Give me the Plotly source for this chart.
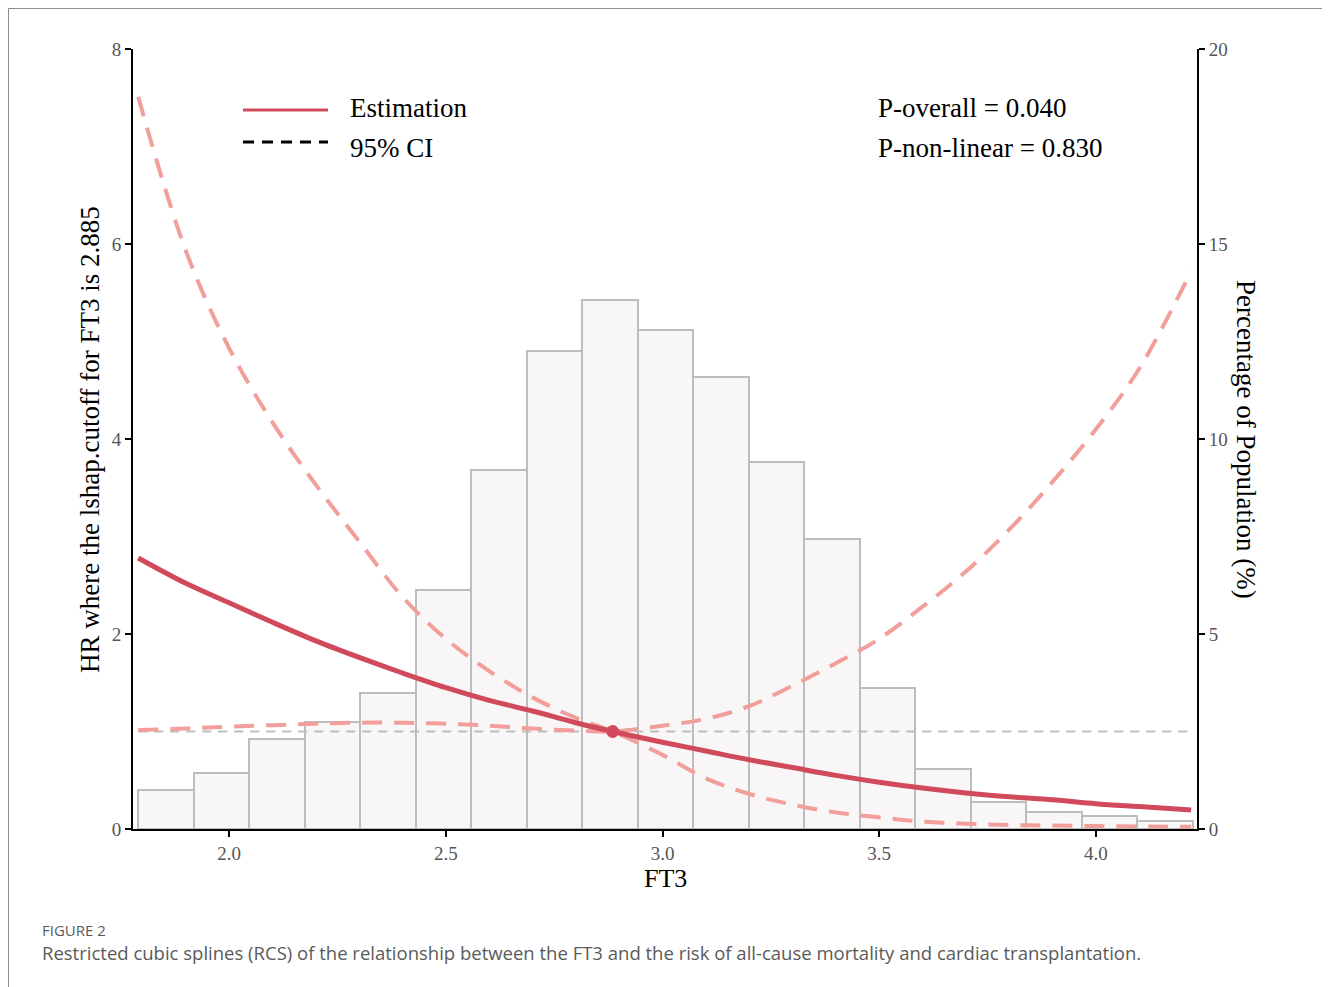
import plotly.graph_objects as go

# ---------------- data ----------------
ft3 = [1.79, 1.9, 2.0, 2.1, 2.2, 2.3, 2.4, 2.5, 2.6, 2.7, 2.8, 2.885,
       3.0, 3.1, 3.2, 3.3, 3.4, 3.5, 3.6, 3.7, 3.8, 3.9, 4.0, 4.1, 4.22]
hr_est = [2.78, 2.52, 2.32, 2.12, 1.93, 1.76, 1.60, 1.45, 1.32, 1.21, 1.09, 1.00,
          0.89, 0.80, 0.71, 0.63, 0.55, 0.48, 0.42, 0.37, 0.33, 0.30, 0.26, 0.23, 0.195]
ci_upper = [7.51, 5.93, 4.93, 4.17, 3.53, 2.95, 2.38, 1.95, 1.62, 1.35, 1.14, 1.00,
            1.06, 1.13, 1.26, 1.47, 1.70, 1.95, 2.28, 2.64, 3.07, 3.56, 4.10, 4.72, 5.72]
ci_lower = [1.015, 1.03, 1.05, 1.065, 1.08, 1.09, 1.09, 1.08, 1.06, 1.03, 1.01, 1.00,
            0.76, 0.52, 0.36, 0.25, 0.17, 0.12, 0.075, 0.055, 0.042, 0.035, 0.03, 0.026, 0.022]
ref_ft3 = 2.885

hist_start = 1.79
hist_width = 0.1281
hist_pct = [1.00, 1.43, 2.30, 2.75, 3.50, 6.13, 9.20, 12.26, 13.56, 12.79,
            11.59, 9.41, 7.44, 3.62, 1.53, 0.68, 0.44, 0.33, 0.21]

x_ticks = [2.0, 2.5, 3.0, 3.5, 4.0]
hr_ticks = [0, 2, 4, 6, 8]
pct_ticks = [0, 5, 10, 15, 20]

p_overall = "P-overall = 0.040"
p_nonlinear = "P-non-linear = 0.830"
caption_label = "FIGURE 2"
caption_text = ("Restricted cubic splines (RCS) of the relationship between the FT3 and the risk "
                "of all-cause mortality and cardiac transplantation.")

# ---------------- styling ----------------
OFF = 8                      # browser body margin
W, H = 1330 - OFF, 987 - OFF
L, R, T, B = 133, 1197, 49, 829   # plot area in reference pixels
SERIF = "Liberation Serif, Times New Roman, serif"
RED = "#D14A5B"
SALMON = "#F29F9B"
GREY = "#BDBDBD"


def px(x):
    return (x - L) / (R - L)


def py(y):
    return (B - y) / (B - T)


k = ft3.index(ref_ft3)
curve_a = ci_upper[:k + 1] + ci_lower[k + 1:]
curve_b = ci_lower[:k + 1] + ci_upper[k + 1:]

centers = [hist_start + hist_width * (i + 0.5) for i in range(len(hist_pct))]
hist_end = hist_start + hist_width * len(hist_pct)

fig = go.Figure()
fig.add_trace(go.Bar(x=centers, y=hist_pct, width=hist_width, yaxis="y",
                     marker=dict(color="#F8F6F7", line=dict(color=GREY, width=2)),
                     showlegend=False, hoverinfo="skip"))
fig.add_trace(go.Scatter(x=[hist_start, hist_end], y=[1, 1], yaxis="y2", mode="lines",
                         line=dict(color=GREY, width=2, dash="9px,7px"), showlegend=False))
for c in (curve_a, curve_b):
    fig.add_trace(go.Scatter(x=ft3, y=c, yaxis="y2", mode="lines",
                             line=dict(color=SALMON, width=4, dash="20px,12px", shape="spline", smoothing=1.0),
                             showlegend=False))
fig.add_trace(go.Scatter(x=ft3, y=hr_est, yaxis="y2", mode="lines",
                         line=dict(color=RED, width=5, shape="spline", smoothing=1.0), showlegend=False))
fig.add_trace(go.Scatter(x=[ref_ft3], y=[1], yaxis="y2", mode="markers",
                         marker=dict(color=RED, size=13), showlegend=False))

tickfont = dict(family=SERIF, size=19, color="#555555")
axis_common = dict(showline=True, linecolor="black", linewidth=2, ticks="outside", ticklen=6,
                   tickwidth=2, tickcolor="black", showgrid=False, zeroline=False, tickfont=tickfont)

fig.update_layout(
    width=W, height=H,
    margin=dict(l=L - OFF, r=W - (R - OFF), t=T - OFF, b=H - (B - OFF)),
    paper_bgcolor="white", plot_bgcolor="white",
    showlegend=False, bargap=0,
    xaxis=dict(range=[1.778, 4.2335], tickvals=x_ticks, ticktext=[f"{v:.1f}" for v in x_ticks],
               **axis_common),
    yaxis=dict(range=[0, 20], side="right", tickvals=pct_ticks, **axis_common),
    yaxis2=dict(range=[0, 8], side="left", overlaying="y", tickvals=hr_ticks, **axis_common),
)

anns = [
    dict(text="FT3", x=px(665), y=py(878), size=26),
    dict(text="HR where the lshap.cutoff for FT3 is 2.885", x=px(90), y=py(440), size=27, angle=-90),
    dict(text="Percentage of Population (%)", x=px(1246), y=py(439), size=27, angle=90),
]
for a in anns:
    fig.add_annotation(text=a["text"], x=a["x"], y=a["y"], xref="paper", yref="paper",
                       showarrow=False, textangle=a.get("angle", 0),
                       font=dict(family=SERIF, size=a["size"], color="black"),
                       xanchor="center", yanchor="middle")

for txt, xx, yy in [("Estimation", 348, 108), ("95% CI", 348, 148),
                    (p_overall, 876, 108), (p_nonlinear, 876, 148)]:
    fig.add_annotation(text=txt, x=px(xx), y=py(yy), xref="paper", yref="paper",
                       showarrow=False, xanchor="left", yanchor="middle",
                       font=dict(family=SERIF, size=27, color="black"))

# manual legend keys
fig.add_shape(type="line", xref="paper", yref="paper", x0=px(243), x1=px(328), y0=py(110), y1=py(110),
              line=dict(color=RED, width=3))
fig.add_shape(type="line", xref="paper", yref="paper", x0=px(243), x1=px(328), y0=py(142), y1=py(142),
              line=dict(color="black", width=3, dash="11px,8px"))

# caption
fig.add_annotation(text=caption_label, x=px(40), y=py(930), xref="paper", yref="paper",
                   showarrow=False, xanchor="left", yanchor="middle",
                   font=dict(family="Open Sans", size=15, color="#5A5A5A"))
fig.add_annotation(text=caption_text, x=px(40), y=py(953), xref="paper", yref="paper",
                   showarrow=False, xanchor="left", yanchor="middle",
                   font=dict(family="Open Sans", size=18.5, color="#5A5A5A"))

# outer frame (left/top edges as close to the page corner as the page margin allows)
fig.add_shape(type="rect", xref="paper", yref="paper",
              x0=px(OFF + 0.5), x1=px(1328.5), y0=py(1010), y1=py(OFF + 0.5),
              line=dict(color="#8C8C8C", width=1), fillcolor="rgba(0,0,0,0)", layer="below")

fig.write_html("out.html")
